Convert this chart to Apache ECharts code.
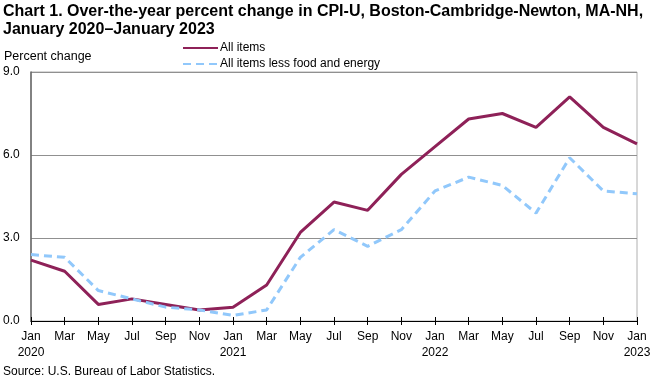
<!DOCTYPE html>
<html><head><meta charset="utf-8">
<script src="https://cdn.jsdelivr.net/npm/echarts@6/dist/echarts.min.js"></script>
<style>html,body{margin:0;padding:0;background:#fff}#c{width:661px;height:379px}</style>
</head><body><div id="c"></div>
<script>
const categories = ['Jan\n2020','Mar','May','Jul','Sep','Nov','Jan\n2021','Mar','May','Jul','Sep','Nov','Jan\n2022','Mar','May','Jul','Sep','Nov','Jan\n2023'];
const allItems = [2.2,1.8,0.6,0.8,0.6,0.4,0.5,1.3,3.2,4.3,4.0,5.3,6.3,7.3,7.5,7.0,8.1,7.0,6.4];
const lessFoodEnergy = [2.4,2.3,1.1,0.8,0.5,0.4,0.2,0.4,2.3,3.3,2.7,3.3,4.7,5.2,4.9,3.9,5.9,4.7,4.6];
const FONT = '"Liberation Sans", Arial, sans-serif';
const chart = echarts.init(document.getElementById('c'), null, {renderer:'canvas'});
chart.setOption({
  animation:false,
  textStyle:{fontFamily:FONT},
  title:{
    text:'Chart 1. Over-the-year percent change in CPI-U, Boston-Cambridge-Newton, MA-NH,\nJanuary 2020\u2013January 2023',
    left:3, top:-2, padding:[5,5,5,0],
    textStyle:{fontFamily:FONT,fontSize:16,fontWeight:'bold',color:'#000',lineHeight:18}
  },
  legend:{
    orient:'vertical', left:182, top:42, itemGap:4, padding:0,
    itemWidth:35, itemHeight:12,
    itemStyle:{opacity:0},
    textStyle:{fontFamily:FONT,fontSize:12,color:'#000',padding:[0,0,0,-3]},
    data:['All items','All items less food and energy']
  },
  graphic:[
    {type:'text',left:4,top:50,style:{text:'Percent change',font:'12.5px '+FONT,fill:'#000'}},
    {type:'text',left:3,top:366,style:{text:'Source: U.S. Bureau of Labor Statistics.',font:'12px '+FONT,fill:'#000'}}
  ],
  grid:{left:31,right:24,top:72,bottom:58,show:true,borderColor:'#b0b0b0',borderWidth:1},
  xAxis:[{
    type:'category', data:categories, boundaryGap:false,
    axisLine:{lineStyle:{color:'#000',width:1}},
    axisTick:{show:true,interval:0,length:4,lineStyle:{color:'#000'}},
    axisLabel:{interval:0,color:'#000',fontSize:12,fontFamily:FONT,margin:8,lineHeight:16},
    splitLine:{show:false}
  },{
    type:'category', data:categories, boundaryGap:false, position:'bottom',
    axisLine:{show:false},
    axisTick:{show:true,inside:true,interval:0,length:4,lineStyle:{color:'#000'}},
    axisLabel:{show:false}, splitLine:{show:false}
  }],
  yAxis:{
    type:'value', min:0, max:9, interval:3,
    axisLine:{show:true,lineStyle:{color:'#666',width:1.5}},
    axisTick:{show:false},
    axisLabel:{color:'#000',fontSize:12,fontFamily:FONT,align:'left',margin:28,formatter:v=>v.toFixed(1)},
    splitLine:{show:true,lineStyle:{color:'#909090',width:1}}
  },
  series:[
    {name:'All items',type:'line',data:allItems,symbol:'none',
     lineStyle:{color:'#8e2158',width:3},itemStyle:{color:'#8e2158'}},
    {name:'All items less food and energy',type:'line',data:lessFoodEnergy,symbol:'none',
     lineStyle:{color:'#91c8fb',width:3,type:[8,5]},itemStyle:{color:'#91c8fb'}}
  ]
});
</script></body></html>
